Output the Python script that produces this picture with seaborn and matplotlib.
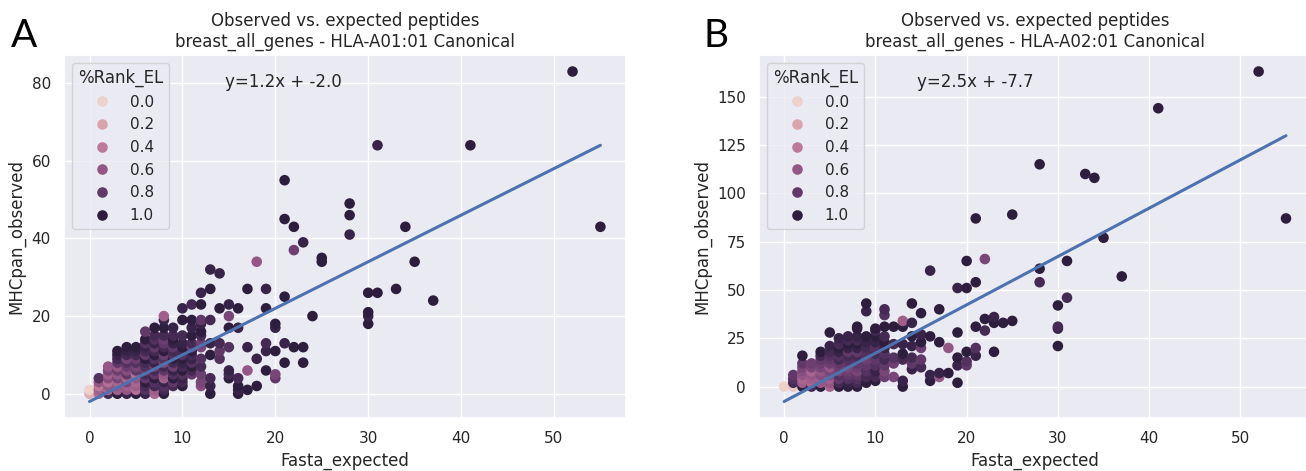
import numpy as np
import pandas as pd
import matplotlib
matplotlib.use("Agg")
import matplotlib.pyplot as plt
import seaborn as sns

sns.set_theme(style="darkgrid")

# Panel A: HLA-A01:01 (one line per Fasta_expected column)
a_x = [
    0, 0,
    1, 1, 1, 1, 1,
    2, 2, 2, 2, 2, 2, 2, 2,
    3, 3, 3, 3, 3, 3, 3, 3, 3, 3, 3, 3,
    4, 4, 4, 4, 4, 4, 4, 4, 4, 4, 4, 4, 4,
    5, 5, 5, 5, 5, 5, 5, 5, 5, 5, 5, 5, 5,
    6, 6, 6, 6, 6, 6, 6, 6, 6, 6, 6, 6, 6, 6, 6, 6,
    7, 7, 7, 7, 7, 7, 7, 7, 7, 7, 7, 7, 7, 7, 7, 7, 7,
    8, 8, 8, 8, 8, 8, 8, 8, 8, 8, 8, 8, 8, 8, 8, 8, 8, 8, 8,
    9, 9, 9, 9, 9, 9, 9, 9, 9, 9, 9, 9, 9, 9, 9,
    10, 10, 10, 10, 10, 10, 10, 10, 10, 10, 10, 10, 10, 10, 10,
    11, 11, 11, 11, 11, 11, 11, 11, 11, 11, 11, 11, 11,
    12, 12, 12, 12, 12, 12, 12, 12, 12, 12, 12, 12, 12,
    13, 13, 13, 13, 13, 13, 13, 13,
    14, 14, 14, 14, 14,
    15, 15, 15, 15, 15, 15, 15,
    16, 16, 16, 16, 16, 16,
    17, 17, 17, 17,
    18, 18, 18,
    19, 19, 19, 19, 19,
    20, 20, 20, 20, 20,
    21, 21, 21, 21, 21,
    22, 22, 22,
    23, 23, 23,
    24,
    25, 25,
    28, 28, 28,
    30, 30, 30, 30,
    31, 31,
    33, 34, 35, 37, 41, 52, 55,
]
a_y = [
    0, 1,
    0, 1, 2, 3, 4,
    0, 1, 2, 3, 4, 5, 6, 7,
    0, 1, 2, 3, 4, 5, 6, 7, 8, 9, 10, 11,
    0, 1, 2, 3, 4, 5, 6, 7, 8, 9, 10, 11, 12,
    0, 1, 2, 3, 4, 5, 6, 7, 8, 9, 10, 11, 12,
    0, 1, 2, 3, 4, 5, 6, 7, 8, 9, 10, 11, 12, 13, 14, 16,
    0, 1, 2, 3, 4, 5, 6, 7, 8, 9, 10, 11, 12, 13, 14, 15, 17,
    0, 1, 2, 3, 4, 5, 6, 7, 8, 9, 10, 11, 12, 13, 14, 15, 17, 19, 20,
    2, 3, 4, 5, 6, 7, 8, 9, 10, 11, 12, 13, 14, 15, 17,
    2, 3, 4, 5, 6, 7, 8, 9, 10, 11, 12, 13, 15, 19, 22,
    5, 6, 7, 8, 9, 10, 11, 12, 13, 15, 17, 19, 23,
    2, 3, 5, 7, 9, 12, 13, 15, 16, 18, 19, 23, 26,
    0, 2, 4, 10, 13, 19, 27, 32,
    9, 11, 13, 22, 31,
    4, 5, 6, 12, 17, 20, 23,
    0, 1, 2, 4, 17, 22,
    1, 6, 12, 27,
    2, 9, 34,
    6, 11, 13, 22, 27,
    4, 5, 11, 17, 18,
    8, 13, 25, 45, 55,
    12, 37, 43,
    8, 12, 39,
    20,
    34, 35,
    41, 46, 49,
    18, 20, 21, 26,
    26, 64,
    27, 43, 34, 24, 64, 83, 43,
]
a_rank = [
    0.15, 0.0,
    0.45, 0.55, 0.4, 0.6, 0.85,
    0.9, 0.5, 0.6, 0.45, 0.65, 0.55, 0.7, 0.6,
    1.0, 0.55, 0.6, 0.5, 0.7, 0.6, 0.75, 0.6, 0.8, 0.9, 0.95, 1.0,
    0.95, 0.6, 0.55, 0.7, 0.5, 0.8, 0.65, 0.75, 0.85, 0.7, 0.9, 0.95, 1.0,
    1.0, 0.45, 0.55, 0.5, 0.6, 0.45, 0.8, 0.7, 0.85, 0.75, 0.9, 0.95, 1.0,
    0.95, 0.85, 0.9, 1.0, 0.8, 0.9, 0.75, 0.85, 0.9, 1.0, 0.8, 0.9, 0.95, 0.85, 1.0, 0.8,
    0.5, 0.55, 0.9, 0.85, 1.0, 0.8, 0.9, 0.75, 0.95, 0.85, 1.0, 0.9, 0.8, 0.95, 0.85, 0.9, 1.0,
    1.0, 0.9, 0.85, 0.95, 0.55, 0.6, 0.8, 0.9, 0.7, 0.85, 0.75, 1.0, 0.9, 0.8, 0.75, 0.9, 1.0, 0.95, 0.55,
    0.9, 0.8, 1.0, 0.85, 0.95, 0.75, 0.9, 1.0, 0.85, 0.9, 0.8, 0.95, 1.0, 0.9, 0.95,
    1.0, 0.9, 0.95, 0.85, 1.0, 0.9, 0.95, 1.0, 0.85, 0.9, 1.0, 0.95, 0.9, 1.0, 0.95,
    0.8, 0.9, 1.0, 0.85, 0.95, 0.9, 1.0, 0.75, 0.9, 1.0, 0.95, 1.0, 0.9,
    0.65, 0.7, 0.75, 0.9, 0.85, 0.7, 0.75, 0.9, 1.0, 0.95, 0.8, 1.0, 0.95,
    1.0, 0.95, 0.9, 1.0, 0.95, 0.9, 1.0, 0.95,
    0.85, 0.8, 0.9, 1.0, 0.95,
    1.0, 0.9, 0.95, 0.85, 1.0, 0.7, 0.95,
    1.0, 0.95, 1.0, 0.9, 0.95, 1.0,
    1.0, 0.6, 0.95, 1.0,
    1.0, 0.95, 0.6,
    1.0, 0.95, 0.9, 1.0, 0.95,
    0.8, 0.7, 1.0, 0.95, 1.0,
    1.0, 0.95, 1.0, 1.0, 1.0,
    1.0, 0.75, 1.0,
    1.0, 1.0, 0.95,
    1.0,
    1.0, 1.0,
    0.95, 1.0, 1.0,
    1.0, 0.95, 1.0, 1.0,
    1.0, 0.95,
    1.0, 1.0, 1.0, 1.0, 1.0, 1.0, 1.0,
]

# Panel B: HLA-A02:01
b_x = [
    0,
    1, 1, 1, 1,
    2, 2, 2, 2, 2, 2, 2, 2,
    3, 3, 3, 3, 3, 3, 3,
    4, 4, 4, 4, 4, 4, 4, 4, 4, 4,
    5, 5, 5, 5, 5, 5, 5, 5, 5, 5, 5, 5,
    6, 6, 6, 6, 6, 6, 6, 6, 6, 6, 6, 6, 6,
    7, 7, 7, 7, 7, 7, 7, 7, 7, 7, 7, 7, 7, 7,
    8, 8, 8, 8, 8, 8, 8, 8, 8, 8, 8, 8, 8, 8, 8, 8,
    9, 9, 9, 9, 9, 9, 9, 9, 9, 9, 9,
    10, 10, 10, 10, 10, 10, 10, 10, 10, 10, 10,
    11, 11, 11, 11, 11, 11, 11, 11, 11, 11, 11,
    12, 12, 12, 12, 12,
    13, 13, 13, 13, 13, 13, 13,
    14, 14, 14, 14, 14, 14, 14,
    15, 15, 15, 15, 15, 15,
    16, 16, 16, 16,
    17, 17, 17, 17,
    18, 18,
    19, 19, 19, 19, 19,
    20, 20, 20, 20, 20,
    21, 21, 21, 21, 21,
    22, 22, 22,
    23, 23, 23,
    24,
    25, 25,
    28, 28, 28,
    30, 30, 30, 30,
    31, 31,
    33, 34, 35, 37, 41, 52, 55,
]
b_y = [
    0,
    0, 2, 4, 6,
    0, 2, 4, 6, 8, 10, 12, 16,
    0, 2, 4, 6, 8, 10, 12,
    0, 2, 4, 6, 8, 10, 12, 14, 16, 18,
    0, 2, 4, 6, 8, 10, 12, 14, 16, 18, 21, 28,
    0, 2, 4, 6, 8, 10, 12, 14, 16, 18, 20, 22, 25,
    0, 2, 4, 6, 8, 10, 12, 14, 16, 18, 20, 22, 24, 26,
    0, 2, 4, 6, 8, 10, 12, 14, 16, 18, 20, 22, 24, 26, 30, 31,
    2, 5, 8, 11, 14, 17, 20, 23, 26, 39, 43,
    3, 5, 8, 11, 14, 17, 20, 23, 26, 29, 30,
    5, 8, 11, 14, 17, 20, 23, 26, 31, 37, 40,
    5, 12, 15, 22, 31,
    0, 3, 14, 17, 22, 31, 34,
    9, 12, 15, 21, 26, 33, 43,
    10, 14, 20, 23, 27, 38,
    3, 6, 26, 60,
    5, 7, 23, 40,
    7, 20,
    2, 11, 15, 28, 51,
    11, 13, 18, 51, 65,
    16, 20, 31, 54, 87,
    29, 35, 66,
    18, 33, 36,
    33,
    34, 89,
    54, 61, 115,
    21, 30, 31, 42,
    46, 65,
    110, 108, 77, 57, 144, 163, 87,
]
b_rank = [
    0.0,
    0.05, 0.9, 0.85, 0.8,
    1.0, 0.55, 0.5, 0.6, 0.65, 0.7, 0.8, 1.0,
    0.9, 0.5, 0.55, 0.6, 0.5, 0.7, 0.75,
    1.0, 0.6, 0.55, 0.65, 0.6, 0.7, 0.75, 0.8, 0.9, 1.0,
    0.5, 0.6, 0.55, 0.65, 0.7, 0.6, 0.75, 0.8, 0.85, 0.9, 0.95, 1.0,
    1.0, 0.9, 0.8, 0.85, 0.7, 0.75, 0.8, 0.9, 0.85, 0.95, 1.0, 0.9, 0.95,
    1.0, 0.95, 0.85, 0.8, 0.75, 0.7, 0.8, 0.85, 0.9, 0.8, 0.95, 1.0, 0.9, 0.95,
    1.0, 0.9, 0.85, 0.8, 0.7, 0.75, 0.8, 0.85, 0.9, 0.8, 0.95, 1.0, 0.9, 0.95, 1.0, 1.0,
    1.0, 0.9, 0.85, 0.8, 0.75, 0.85, 0.9, 0.95, 1.0, 0.95, 1.0,
    1.0, 0.9, 0.95, 0.85, 0.8, 0.9, 0.85, 0.95, 1.0, 0.9, 1.0,
    0.75, 0.7, 0.8, 0.9, 0.85, 0.95, 1.0, 0.9, 1.0, 0.85, 0.9,
    0.7, 0.75, 0.85, 0.9, 1.0,
    1.0, 0.95, 0.9, 1.0, 0.95, 1.0, 0.55,
    0.95, 0.8, 0.9, 0.95, 1.0, 0.95, 1.0,
    0.9, 0.8, 0.75, 1.0, 0.95, 1.0,
    1.0, 0.95, 1.0, 0.95,
    0.6, 0.95, 1.0, 1.0,
    1.0, 0.6,
    1.0, 0.95, 1.0, 1.0, 0.95,
    0.8, 0.85, 1.0, 1.0, 1.0,
    0.95, 0.85, 1.0, 1.0, 1.0,
    0.9, 1.0, 0.7,
    1.0, 1.0, 0.95,
    1.0,
    1.0, 1.0,
    0.9, 1.0, 1.0,
    1.0, 0.95, 0.9, 1.0,
    0.9, 1.0,
    1.0, 1.0, 1.0, 1.0, 1.0, 1.0, 1.0,
]

# fitted lines as printed on the chart
a_fit = (1.2, -2.0)
b_fit = (2.5, -7.7)


def draw_panel(ax, x, y, rank, fit, allele):
    df = pd.DataFrame({"Fasta_expected": x, "MHCpan_observed": y, "%Rank_EL": rank})
    sns.scatterplot(data=df, x="Fasta_expected", y="MHCpan_observed",
                    hue="%Rank_EL", s=58, linewidth=0, ax=ax)
    slope, intercept = fit
    xs = np.array([df["Fasta_expected"].min(), df["Fasta_expected"].max()])
    ax.plot(xs, slope * xs + intercept, color=sns.color_palette()[0], lw=2.2)
    ax.text(0.286, 0.926, f"y={slope}x + {intercept}", transform=ax.transAxes,
            va="center", fontsize=12, color=".15")
    ax.set_title(f"Observed vs. expected peptides\nbreast_all_genes - {allele} Canonical")
    sns.move_legend(ax, "upper left")


fig = plt.figure(figsize=(13.06, 4.71), dpi=100)
ax_a = fig.add_axes([0.049, 0.1125, 0.4303, 0.7707])
ax_b = fig.add_axes([0.5812, 0.1125, 0.4227, 0.7707])

draw_panel(ax_a, a_x, a_y, a_rank, a_fit, "HLA-A01:01")
draw_panel(ax_b, b_x, b_y, b_rank, b_fit, "HLA-A02:01")

fig.text(0.008, 0.90, "A", fontsize=28, family="Lato", color="black")
fig.text(0.539, 0.90, "B", fontsize=28, family="Lato", color="black")

fig.savefig("out.png", dpi=100)
